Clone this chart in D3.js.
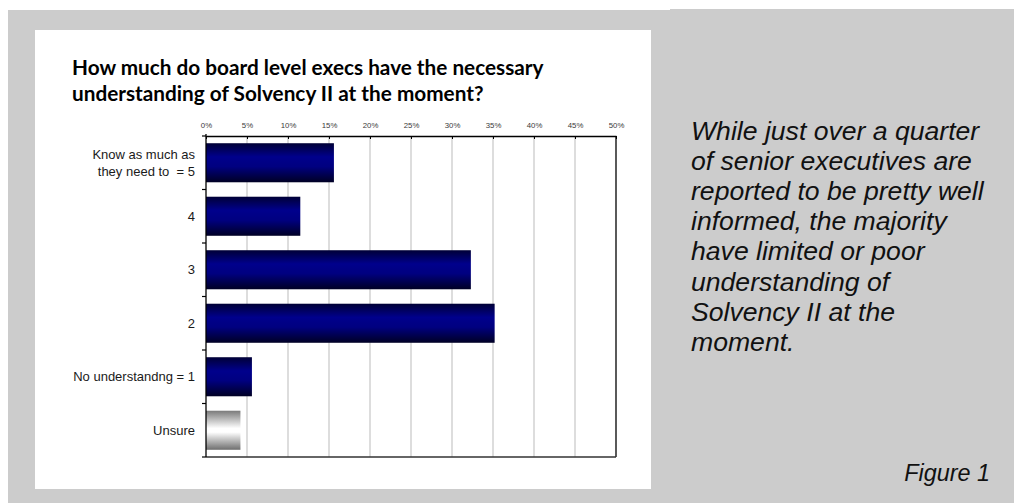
<!DOCTYPE html>
<html>
<head>
<meta charset="utf-8">
<script src="https://cdn.jsdelivr.net/npm/d3@7"></script>
<style>
  body { margin: 0; background: #ffffff; }
  svg { display: block; }
  text { white-space: pre; }
</style>
</head>
<body>
<svg id="chart" width="1014" height="503"></svg>
<script>
// Survey answers, top to bottom; "|" splits a label over two lines
const categories = ["Know as much as|they need to  = 5", "4", "3", "2", "No understandng = 1", "Unsure"];
// Share of respondents (%)
const values = [15.6, 11.5, 32.3, 35.2, 5.6, 4.2];
// Axis ticks (%)
const tickValues = [0, 5, 10, 15, 20, 25, 30, 35, 40, 45, 50];
const titleLines = ["How much do board level execs have the necessary", "understanding of Solvency II at the moment?"];
const noteLines = ["While just over a quarter", "of senior executives are", "reported to be pretty well",
  "informed, the majority", "have limited or poor", "understanding of", "Solvency II at the", "moment."];
const figureLabel = "Figure 1";

const svg = d3.select("#chart");

// Page panels
svg.append("rect").attr("x", 8).attr("y", 10).attr("width", 662).attr("height", 493).attr("fill", "#cccccc");
svg.append("rect").attr("x", 670).attr("y", 9).attr("width", 344).attr("height", 494).attr("fill", "#cccccc");
svg.append("rect").attr("x", 35).attr("y", 30).attr("width", 616).attr("height", 459).attr("fill", "#ffffff");

// Gradients for the bars
const defs = svg.append("defs");
const navy = defs.append("linearGradient").attr("id", "navy").attr("x1", 0).attr("y1", 0).attr("x2", 0).attr("y2", 1);
[[0, "#000036"], [0.35, "#00008c"], [0.6, "#000080"], [1, "#000024"]]
  .forEach(([o, c]) => navy.append("stop").attr("offset", o).attr("stop-color", c));
const silver = defs.append("linearGradient").attr("id", "silver").attr("x1", 0).attr("y1", 0).attr("x2", 0).attr("y2", 1);
[[0, "#7a7a7a"], [0.45, "#ffffff"], [0.55, "#ffffff"], [1, "#6e6e6e"]]
  .forEach(([o, c]) => silver.append("stop").attr("offset", o).attr("stop-color", c));

// Title, sized to its line width
const title = svg.append("g").attr("font-family", "Lato, 'Open Sans', sans-serif").attr("font-weight", 700).attr("fill", "#000");
const t1 = title.append("text").attr("x", 72).attr("y", 75).attr("font-size", 17).text(titleLines[0]);
const fs = 17 * 472 / t1.node().getComputedTextLength();
t1.attr("font-size", fs);
title.append("text").attr("x", 72).attr("y", 101).attr("font-size", fs).text(titleLines[1]);

// Plot area
const plotLeft = 206, plotRight = 616, plotTop = 136, plotBottom = 457;
const x = d3.scaleLinear().domain([0, 50]).range([plotLeft, plotRight]);
const y = d3.scaleBand().domain(categories).range([plotTop, plotBottom]).paddingInner(0.27).paddingOuter(0.135);

// Vertical gridlines
svg.append("g").selectAll("line").data(tickValues.slice(1, -1)).join("line")
  .attr("x1", d => x(d)).attr("x2", d => x(d)).attr("y1", plotTop).attr("y2", plotBottom)
  .attr("stroke", "#d2d2d2").attr("stroke-width", 1.5);

// Bars
svg.append("g").selectAll("rect").data(categories).join("rect")
  .attr("x", x(0)).attr("y", d => y(d))
  .attr("width", (d, i) => x(values[i]) - x(0)).attr("height", y.bandwidth())
  .attr("fill", d => d === "Unsure" ? "url(#silver)" : "url(#navy)");

// Top value axis
const xAxis = svg.append("g").attr("transform", `translate(0,${plotTop})`)
  .call(d3.axisTop(x).tickValues(tickValues).tickFormat(d => d + "%").tickSizeInner(-3).tickSizeOuter(0).tickPadding(8));
xAxis.select(".domain").attr("stroke", "#000").attr("stroke-width", 1.3);
xAxis.selectAll(".tick line").attr("stroke", "#000");
xAxis.selectAll(".tick text").attr("font-family", "'Liberation Sans', Arial, sans-serif").attr("font-size", 7.8).attr("fill", "#3a3a3a");

// Right and bottom frame
svg.append("line").attr("x1", plotRight).attr("x2", plotRight).attr("y1", plotTop).attr("y2", plotBottom).attr("stroke", "#000").attr("stroke-width", 1.3);
svg.append("line").attr("x1", plotLeft - 4).attr("x2", plotRight).attr("y1", plotBottom).attr("y2", plotBottom).attr("stroke", "#333").attr("stroke-width", 1.3);

// Category axis with ticks at band boundaries
svg.append("line").attr("x1", plotLeft).attr("x2", plotLeft).attr("y1", plotTop - 2).attr("y2", plotBottom).attr("stroke", "#000").attr("stroke-width", 1.3);
const bounds = categories.map(d => y(d) - y.step() * y.paddingInner() / 2);
svg.append("g").selectAll("line").data(bounds).join("line")
  .attr("x1", plotLeft - 4).attr("x2", plotLeft).attr("y1", d => d).attr("y2", d => d)
  .attr("stroke", "#000").attr("stroke-width", 1.2);

const labels = svg.append("g").attr("font-family", "'Liberation Sans', Arial, sans-serif")
  .attr("font-size", 13).attr("fill", "#1a1a1a").attr("text-anchor", "end");
categories.forEach(c => {
  const parts = c.split("|");
  const cy = y(c) + y.bandwidth() / 2;
  parts.forEach((p, k) => {
    labels.append("text").attr("x", 195)
      .attr("y", cy + (k - (parts.length - 1) / 2) * 17)
      .attr("dy", "0.36em").text(p);
  });
});

// Commentary
const note = svg.append("g").attr("font-family", "'Liberation Sans', Arial, sans-serif")
  .attr("font-style", "italic").attr("fill", "#111");
noteLines.forEach((l, i) => {
  note.append("text").attr("x", 691).attr("y", 140 + i * 30.1).attr("font-size", 26.6).text(l);
});
note.append("text").attr("x", 990).attr("y", 481).attr("font-size", 23.4).attr("text-anchor", "end").text(figureLabel);
</script>
</body>
</html>
